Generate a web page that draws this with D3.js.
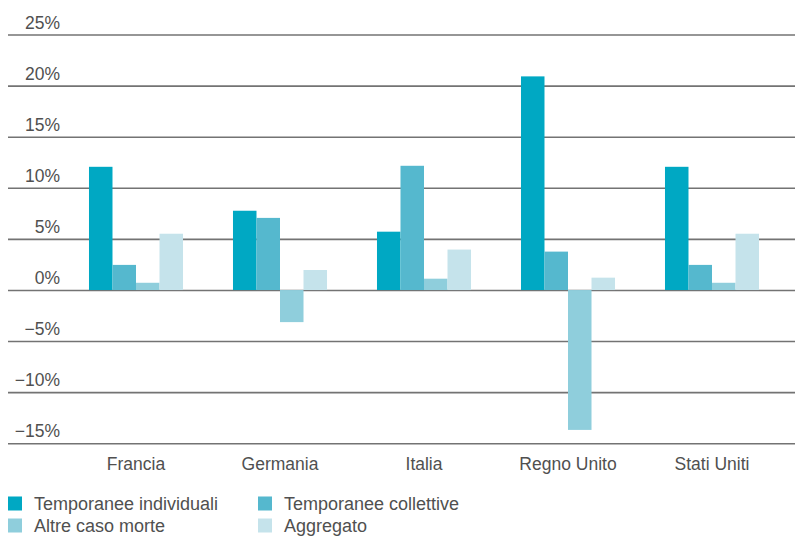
<!DOCTYPE html>
<html>
<head>
<meta charset="utf-8">
<script src="https://cdn.jsdelivr.net/npm/d3@7"></script>
<style>
  html, body { margin: 0; padding: 0; background: #fff; }
  svg { display: block; }
  text { font-family: "Liberation Sans", Arial, sans-serif; fill: #505050; }
</style>
</head>
<body>
<svg id="chart" width="795" height="536"></svg>
<script>
// Countries on the x axis
const categories = ["Francia", "Germania", "Italia", "Regno Unito", "Stati Uniti"];

// Series names (legend order)
const seriesNames = ["Temporanee individuali", "Temporanee collettive", "Altre caso morte", "Aggregato"];

// Values in percent, one array per series, in category order
const individuali = [12.1, 7.8, 5.75, 20.95, 12.1];
const collettive  = [2.5, 7.1, 12.2, 3.8, 2.5];
const altreMorte  = [0.75, -3.1, 1.15, -13.65, 0.75];
const aggregato   = [5.55, 2.0, 4.0, 1.25, 5.55];

// Y tick values and labels
const yTicks = [25, 20, 15, 10, 5, 0, -5, -10, -15];
const yTickLabels = ["25%", "20%", "15%", "10%", "5%", "0%", "\u22125%", "\u221210%", "\u221215%"];

const seriesValues = [individuali, collettive, altreMorte, aggregato];
const colors = ["#00a8c3", "#55b8ce", "#8fcedc", "#c5e3eb"];

const svg = d3.select("#chart");

const x = d3.scaleBand()
  .domain(categories)
  .range([64, 784])
  .paddingInner(0.347)
  .paddingOuter(0.1735);

const xInner = d3.scaleBand()
  .domain(d3.range(seriesNames.length))
  .range([0, x.bandwidth()]);

const y = d3.scaleLinear()
  .domain([-15, 25])
  .range([443.7, 35]);

// Horizontal grid lines
svg.append("g")
  .selectAll("line")
  .data(yTicks)
  .join("line")
  .attr("x1", 8)
  .attr("x2", 795)
  .attr("y1", d => y(d))
  .attr("y2", d => y(d))
  .attr("stroke", "#737373")
  .attr("stroke-width", 1.6);

// Y tick labels sit just above each grid line
svg.append("g")
  .selectAll("text")
  .data(yTicks)
  .join("text")
  .attr("x", 60)
  .attr("y", d => y(d) - 6.5)
  .attr("text-anchor", "end")
  .attr("font-size", 17.5)
  .text((d, i) => yTickLabels[i]);

// Grouped bars
const groups = svg.append("g")
  .selectAll("g")
  .data(categories)
  .join("g")
  .attr("transform", d => `translate(${x(d)},0)`);

groups.selectAll("rect")
  .data((c, ci) => seriesValues.map((vals, si) => ({ si, v: vals[ci] })))
  .join("rect")
  .attr("x", d => xInner(d.si))
  .attr("width", xInner.bandwidth())
  .attr("y", d => d.v >= 0 ? y(d.v) : y(0) - 0.4)
  .attr("height", d => d.v >= 0 ? y(0) - 0.4 - y(d.v) : y(d.v) - y(0) + 0.4)
  .attr("fill", d => colors[d.si]);

// Category labels
svg.append("g")
  .selectAll("text")
  .data(categories)
  .join("text")
  .attr("x", d => x(d) + x.bandwidth() / 2)
  .attr("y", 470)
  .attr("text-anchor", "middle")
  .attr("font-size", 17.5)
  .text(d => d);

// Legend, two columns
const legendX = [8, 258];
const legendY = [496.5, 518.5];
const legend = svg.append("g")
  .selectAll("g")
  .data(seriesNames)
  .join("g")
  .attr("transform", (d, i) => `translate(${legendX[i % 2]},${legendY[Math.floor(i / 2)]})`);

legend.append("rect")
  .attr("width", 14)
  .attr("height", 14)
  .attr("fill", (d, i) => colors[i]);

legend.append("text")
  .attr("x", 26)
  .attr("y", 13.3)
  .attr("font-size", 18)
  .text(d => d);
</script>
</body>
</html>
